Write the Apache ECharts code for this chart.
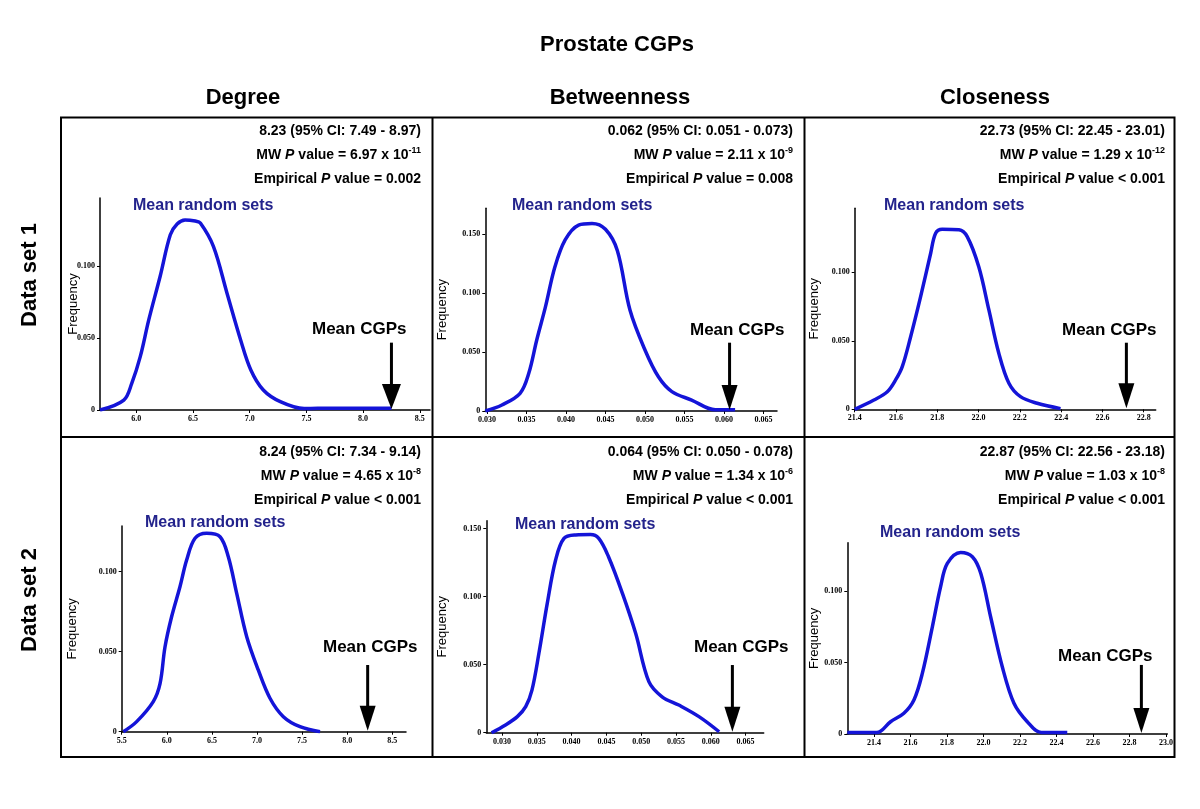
<!DOCTYPE html>
<html><head><meta charset="utf-8">
<script src="https://cdn.jsdelivr.net/npm/echarts@6/dist/echarts.min.js"></script>
<style>html,body{margin:0;padding:0;background:#fff}#c{width:1200px;height:809px}</style>
</head><body><div id="c"></div>
<script>
// ---- Data ----
const degree1X = [5.68, 5.89, 5.96, 6.035, 6.11, 6.21, 6.30, 6.36, 6.43, 6.52, 6.565, 6.68, 6.80, 6.92, 7.01, 7.12, 7.27, 7.48, 7.60, 8.25];
const degree1Y = [0, 0.0069, 0.0185, 0.037, 0.0625, 0.0926, 0.1215, 0.129, 0.1318, 0.131, 0.1296, 0.1134, 0.081, 0.0486, 0.0278, 0.0139, 0.0058, 0.001, 0.0012, 0.0012];
const betw1X = [0.0298, 0.0319, 0.0342, 0.0353, 0.0363, 0.0374, 0.0386, 0.0399, 0.0416, 0.0433, 0.0450, 0.0465, 0.0481, 0.0500, 0.0517, 0.0534, 0.0559, 0.0589, 0.0614];
const betw1Y = [0, 0.0051, 0.015, 0.032, 0.060, 0.088, 0.122, 0.145, 0.1576, 0.159, 0.154, 0.136, 0.0856, 0.0517, 0.029, 0.0164, 0.0093, 0.001, 0.001];
const close1X = [21.4, 21.493, 21.558, 21.598, 21.63, 21.671, 21.719, 21.768, 21.792, 21.824, 21.905, 21.945, 22.001, 22.05, 22.098, 22.147, 22.203, 22.284, 22.397];
const close1Y = [0, 0.0068, 0.0128, 0.0214, 0.031, 0.053, 0.082, 0.1139, 0.1285, 0.1314, 0.131, 0.126, 0.104, 0.0725, 0.0409, 0.019, 0.0092, 0.0044, 0.0005];
const degree2X = [5.518, 5.666, 5.85, 5.925, 5.98, 6.054, 6.146, 6.22, 6.313, 6.442, 6.59, 6.682, 6.775, 6.886, 7.014, 7.144, 7.292, 7.477, 7.699];
const degree2Y = [0, 0.0063, 0.0188, 0.030, 0.053, 0.072, 0.0906, 0.1073, 0.1209, 0.124, 0.1219, 0.1094, 0.0865, 0.0594, 0.0386, 0.0209, 0.0094, 0.0031, 0];
const betw2X = [0.0285, 0.0305, 0.0322, 0.0334, 0.0343, 0.0353, 0.0365, 0.0377, 0.0389, 0.0406, 0.0427, 0.0439, 0.0453, 0.0473, 0.0492, 0.0511, 0.0530, 0.0554, 0.0583, 0.0612];
const betw2Y = [0, 0.0057, 0.0118, 0.0191, 0.0313, 0.0583, 0.095, 0.1268, 0.1427, 0.1452, 0.1455, 0.1427, 0.1292, 0.1023, 0.073, 0.0375, 0.0264, 0.0203, 0.0118, 0.0007];
const close2X = [21.254, 21.415, 21.491, 21.564, 21.619, 21.665, 21.72, 21.765, 21.802, 21.875, 21.939, 21.985, 22.039, 22.103, 22.167, 22.24, 22.317, 22.459];
const close2Y = [0.001, 0.001, 0.0086, 0.0145, 0.0238, 0.0424, 0.075, 0.103, 0.1193, 0.127, 0.124, 0.1124, 0.082, 0.047, 0.0215, 0.0086, 0.001, 0.001];

// Mean CGPs (arrow position) and arrow top, per panel
const arrowX = [8.25, 0.0607, 22.716, 8.227, 0.0631, 22.865];
const arrowTop = [0.0467, 0.0579, 0.0486, 0.0417, 0.0497, 0.0483];

// Tick labels
const xTicksDegree1 = [6.0, 6.5, 7.0, 7.5, 8.0, 8.5];
const xTicksBetw = [0.030, 0.035, 0.040, 0.045, 0.050, 0.055, 0.060, 0.065];
const xTicksClose1 = [21.4, 21.6, 21.8, 22.0, 22.2, 22.4, 22.6, 22.8];
const xTicksDegree2 = [5.5, 6.0, 6.5, 7.0, 7.5, 8.0, 8.5];
const xTicksClose2 = [21.4, 21.6, 21.8, 22.0, 22.2, 22.4, 22.6, 22.8, 23.0];
const yTicksA = [0, 0.05, 0.1];
const yTicksB = [0, 0.05, 0.1, 0.15];

const titleText = 'Prostate CGPs';
const columnNames = ['Degree', 'Betweenness', 'Closeness'];
const rowNames = ['Data set 1', 'Data set 2'];
const statLine1 = ['8.23 (95% CI: 7.49 - 8.97)', '0.062 (95% CI: 0.051 - 0.073)', '22.73 (95% CI: 22.45 - 23.01)',
                   '8.24 (95% CI: 7.34 - 9.14)', '0.064 (95% CI: 0.050 - 0.078)', '22.87 (95% CI: 22.56 - 23.18)'];
const mwMantissa = ['6.97', '2.11', '1.29', '4.65', '1.34', '1.03'];
const mwExponent = ['-11', '-9', '-12', '-8', '-6', '-8'];
const empirical = ['= 0.002', '= 0.008', '< 0.001', '< 0.001', '< 0.001', '< 0.001'];

// ---- Layout (pixels) ----
const panels = [
  {xs: degree1X, ys: degree1Y, grid: {left: 100, top: 198, width: 330, height: 212}, xmin: 5.68, xmax: 8.59, ymax: 0.147, xt: xTicksDegree1, yt: yTicksA, dec: 1, gap: 20, aw: 19,
   right: 421, statY: 131, mrs: [133, 206], mc: [312, 329]},
  {xs: betw1X, ys: betw1Y, grid: {left: 485.3, top: 208.3, width: 291.7, height: 202.7}, xmin: 0.0298, xmax: 0.0667, ymax: 0.1718, xt: xTicksBetw, yt: yTicksB, dec: 3, gap: 36, aw: 16,
   right: 793, statY: 131, mrs: [512, 206], mc: [690, 330]},
  {xs: close1X, ys: close1Y, grid: {left: 854.7, top: 208.3, width: 301, height: 201}, xmin: 21.4, xmax: 22.858, ymax: 0.1467, xt: xTicksClose1, yt: yTicksA, dec: 1, gap: 34, aw: 16,
   right: 1165, statY: 131, mrs: [884, 206], mc: [1062, 330]},
  {xs: degree2X, ys: degree2Y, grid: {left: 121.7, top: 526, width: 284.3, height: 205.7}, xmin: 5.5, xmax: 8.652, ymax: 0.1286, xt: xTicksDegree2, yt: yTicksA, dec: 1, gap: 43, aw: 16,
   right: 421, statY: 452, mrs: [145, 523], mc: [323, 647]},
  {xs: betw2X, ys: betw2Y, grid: {left: 486.3, top: 520.7, width: 277.4, height: 212}, xmin: 0.02774, xmax: 0.0676, ymax: 0.1557, xt: xTicksBetw, yt: yTicksB, dec: 3, gap: 37, aw: 16,
   right: 793, statY: 452, mrs: [515, 525], mc: [694, 647]},
  {xs: close2X, ys: close2Y, grid: {left: 847.3, top: 542.7, width: 320, height: 191.3}, xmin: 21.254, xmax: 23.007, ymax: 0.1338, xt: xTicksClose2, yt: yTicksA, dec: 1, gap: 26, aw: 16,
   right: 1165, statY: 452, mrs: [880, 533], mc: [1058, 656]}
];

const tickFont = {fontFamily: 'Liberation Serif', fontWeight: 'bold', fontSize: 8, color: '#000'};
const curveColor = '#1414d8';
const labelBlue = '#23238c';

function makeArrowRender(w) {
  return function (params, api) {
    const x = api.value(0), yTop = api.value(1);
    const p0 = api.coord([x, yTop]);
    const p1 = api.coord([x, 0]);
    const h = 26;
    return {type: 'group', children: [
      {type: 'line', shape: {x1: p0[0], y1: p0[1], x2: p1[0], y2: p1[1] - h + 2}, style: {stroke: '#000', lineWidth: 3}},
      {type: 'polygon', shape: {points: [[p1[0] - w / 2, p1[1] - h], [p1[0] + w / 2, p1[1] - h], [p1[0], p1[1] - 1]]}, style: {fill: '#000'}}
    ]};
  };
}

const grids = [], xAxes = [], yAxes = [], series = [], graphics = [];
panels.forEach((p, i) => {
  grids.push(Object.assign({containLabel: false}, p.grid));
  xAxes.push({
    type: 'value', gridIndex: i, min: p.xmin, max: p.xmax,
    axisLine: {show: true, onZero: false, lineStyle: {color: '#000', width: 1.5}},
    axisTick: {show: true, inside: false, length: 3, customValues: p.xt, lineStyle: {color: '#000'}},
    axisLabel: Object.assign({customValues: p.xt, margin: 5, formatter: v => Number(v).toFixed(p.dec)}, tickFont),
    splitLine: {show: false}
  });
  yAxes.push({
    type: 'value', gridIndex: i, min: 0, max: p.ymax,
    name: 'Frequency', nameLocation: 'middle', nameRotate: 90, nameGap: p.gap, nameMoveOverlap: false,
    nameTextStyle: {fontFamily: 'Liberation Sans', fontSize: 13, color: '#000'},
    axisLine: {show: true, onZero: false, lineStyle: {color: '#000', width: 1.5}},
    axisTick: {show: true, inside: false, length: 3, customValues: p.yt, lineStyle: {color: '#000'}},
    axisLabel: Object.assign({customValues: p.yt, margin: 5, formatter: v => (v === 0 ? '0' : Number(v).toFixed(3))}, tickFont),
    splitLine: {show: false}
  });
  series.push({
    type: 'line', xAxisIndex: i, yAxisIndex: i, smooth: 0.35, symbol: 'none',
    lineStyle: {color: curveColor, width: 3.5}, data: p.xs.map((x, k) => [x, p.ys[k]]), z: 3, animation: false
  });
  series.push({
    type: 'custom', xAxisIndex: i, yAxisIndex: i, renderItem: makeArrowRender(p.aw),
    data: [[arrowX[i], arrowTop[i]]], z: 4, animation: false, clip: false
  });
  // stats text
  const base = {fontFamily: 'Liberation Sans', fontWeight: 'bold', fontSize: 14, fill: '#000', lineHeight: 17};
  const rich = {
    b: Object.assign({}, base),
    i: Object.assign({}, base, {fontStyle: 'italic'}),
    s: Object.assign({}, base, {fontSize: 9, verticalAlign: 'top', lineHeight: 17})
  };
  const lines = [
    '{b|' + statLine1[i] + '}',
    '{b|MW }{i|P}{b| value = ' + mwMantissa[i] + ' x 10}{s|' + mwExponent[i] + '}',
    '{b|Empirical }{i|P}{b| value ' + empirical[i] + '}'
  ];
  lines.forEach((t, k) => {
    graphics.push({type: 'text', x: p.right, y: p.statY + k * 24,
      style: {text: t, rich: rich, align: 'right', verticalAlign: 'middle', font: 'bold 14px "Liberation Sans"'}});
  });
  graphics.push({type: 'text', x: p.mrs[0], y: p.mrs[1],
    style: {text: 'Mean random sets', fill: labelBlue, font: 'bold 16px "Liberation Sans"', align: 'left', verticalAlign: 'middle'}});
  graphics.push({type: 'text', x: p.mc[0], y: p.mc[1],
    style: {text: 'Mean CGPs', fill: '#000', font: 'bold 17px "Liberation Sans"', align: 'left', verticalAlign: 'middle'}});
});

// Title, headers, row labels
graphics.push({type: 'text', x: 617, y: 45, style: {text: titleText, font: 'bold 22px "Liberation Sans"', fill: '#000', align: 'center', verticalAlign: 'middle'}});
[243, 620, 995].forEach((x, k) => graphics.push({type: 'text', x: x, y: 98,
  style: {text: columnNames[k], font: 'bold 22px "Liberation Sans"', fill: '#000', align: 'center', verticalAlign: 'middle'}}));
[275, 600].forEach((y, k) => graphics.push({type: 'text', x: 30, y: y, rotation: Math.PI / 2,
  style: {text: rowNames[k], font: 'bold 22px "Liberation Sans"', fill: '#000', align: 'center', verticalAlign: 'middle'}}));
// Panel borders
graphics.push({type: 'rect', shape: {x: 61, y: 117.5, width: 1113.5, height: 639.5}, style: {fill: 'none', stroke: '#000', lineWidth: 2}});
graphics.push({type: 'line', shape: {x1: 432.5, y1: 117.5, x2: 432.5, y2: 757}, style: {stroke: '#000', lineWidth: 2}});
graphics.push({type: 'line', shape: {x1: 804.5, y1: 117.5, x2: 804.5, y2: 757}, style: {stroke: '#000', lineWidth: 2}});
graphics.push({type: 'line', shape: {x1: 61, y1: 437, x2: 1174.5, y2: 437}, style: {stroke: '#000', lineWidth: 2}});

const chart = echarts.init(document.getElementById('c'), null, {renderer: 'canvas'});
chart.setOption({
  backgroundColor: '#fff', animation: false,
  grid: grids, xAxis: xAxes, yAxis: yAxes, series: series, graphic: graphics
});
</script></body></html>
